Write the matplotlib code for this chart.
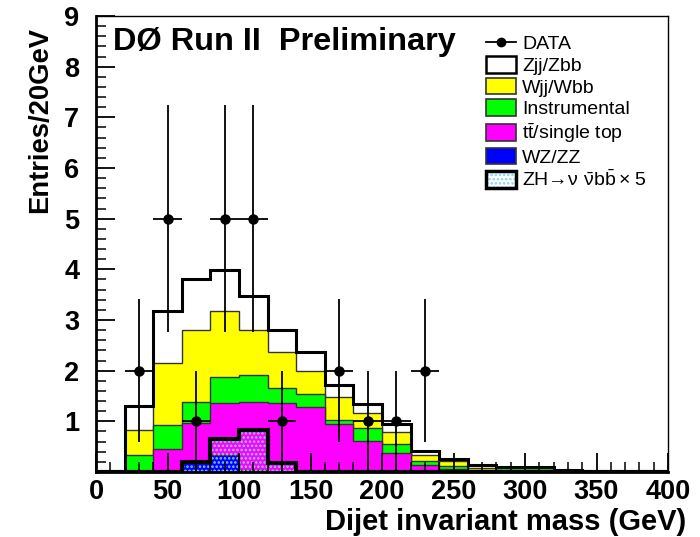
import numpy as np
import matplotlib
matplotlib.use("Agg")
import matplotlib.pyplot as plt
from matplotlib.patches import Patch
from matplotlib.lines import Line2D
from matplotlib.ticker import MultipleLocator

plt.rcParams['font.family'] = ['Liberation Sans', 'DejaVu Sans']
plt.rcParams['mathtext.default'] = 'regular'
plt.rcParams['hatch.linewidth'] = 1.2

# binning: 20 GeV bins from 0 to 400
edges = np.arange(0, 420, 20)

# background components (events per bin)
wz_zz = [0, 0, 0, 0.18, 0.34, 0.04, 0, 0, 0, 0, 0, 0, 0, 0, 0, 0, 0, 0, 0, 0]
ttbar = [0, 0, 0.46, 0.78, 1.03, 1.34, 1.36, 1.28, 0.95, 0.62, 0.37, 0.13, 0.06, 0.02, 0.01, 0, 0, 0, 0, 0]
instr = [0, 0.33, 0.47, 0.43, 0.51, 0.53, 0.30, 0.25, 0.07, 0.25, 0.19, 0.08, 0.06, 0.02, 0.075, 0.08, 0.02, 0, 0, 0]
wjj = [0, 0.49, 1.23, 1.42, 1.30, 0.89, 0.71, 0.46, 0.47, 0.29, 0.23, 0.12, 0.09, 0.03, 0.005, 0, 0, 0, 0, 0]
zjj = [0, 0.48, 1.02, 0.99, 0.80, 0.67, 0.43, 0.38, 0.22, 0.18, 0.16, 0.09, 0.04, 0.06, 0.01, 0.01, 0.01, 0, 0, 0]

# signal ZH -> nu nu bb, scaled x5
zh_x5 = [0, 0, 0, 0.20, 0.66, 0.82, 0.18, 0, 0, 0, 0, 0, 0, 0, 0, 0, 0, 0, 0, 0]

# data
data_x = [30, 50, 70, 90, 110, 130, 170, 190, 210, 230]
data_y = [2, 5, 1, 5, 5, 1, 2, 1, 1, 2]

# stacked sums
s_wz = np.array(wz_zz)
s_tt = s_wz + np.array(ttbar)
s_in = s_tt + np.array(instr)
s_wj = s_in + np.array(wjj)
s_zj = s_wj + np.array(zjj)

fig = plt.figure(figsize=(7, 5.37), dpi=100)
ax = fig.add_axes([96 / 700, 1 - 472 / 537, 572 / 700, 456 / 537])

ax.stairs(s_zj, edges, fill=True, facecolor='white', edgecolor='none')
ax.stairs(s_wj, edges, fill=True, facecolor='#ffff00', edgecolor='#333333', lw=1)
ax.stairs(s_in, edges, fill=True, facecolor='#00ff00', edgecolor='#333333', lw=1)
ax.stairs(s_tt, edges, fill=True, facecolor='#ff00ff', edgecolor='#333333', lw=1)
ax.stairs(s_wz, edges, fill=True, facecolor='#0000ff', edgecolor='#333333', lw=1)
ax.stairs(s_zj, edges, fill=False, edgecolor='black', lw=2.2)

# signal: dotted light blue fill + thick outline
ax.stairs(zh_x5, edges, fill=True, facecolor='none', edgecolor='#7fd4f0', hatch='....', lw=0)
ax.stairs(zh_x5, edges, fill=False, edgecolor='black', lw=3)

# data with sqrt(N) errors
ax.errorbar(data_x, data_y, yerr=np.sqrt(data_y), xerr=10, fmt='o', color='black',
            ms=6.5, elinewidth=1.3, capsize=0, zorder=5)

ax.set_xlim(0, 400)
ax.set_ylim(0, 9)
ax.xaxis.set_major_locator(MultipleLocator(50))
ax.xaxis.set_minor_locator(MultipleLocator(10))
ax.set_yticks(np.arange(1, 10))
ax.yaxis.set_minor_locator(MultipleLocator(0.2))
ax.tick_params(which='major', direction='in', length=14, width=1.3, labelsize=19.5)
ax.tick_params(which='minor', direction='in', length=7, width=1.1)
ax.tick_params(axis='y', pad=12)
ax.tick_params(axis='x', pad=5)
for lab in ax.get_xticklabels() + ax.get_yticklabels():
    lab.set_fontweight('bold')
for s in ['left', 'bottom']:
    ax.spines[s].set_linewidth(2)
for s in ['top', 'right']:
    ax.spines[s].set_linewidth(1)

fig.text(686 / 700, 1 - 530 / 537, 'Dijet invariant mass (GeV)', ha='right', va='baseline',
         fontsize=21, fontweight='bold')
fig.text(40 / 700, 1 - 27 / 537, 'Entries/20GeV', ha='center', va='top', rotation=90,
         fontsize=19.7, fontweight='bold')
fig.text(113 / 700, 1 - 42 / 537, 'DØ Run II  Preliminary', ha='left', va='center',
         fontsize=23.4, fontweight='bold')

handles = [
    Line2D([], [], color='black', marker='o', ms=6, lw=1.3),
    Patch(facecolor='white', edgecolor='black', lw=1.8),
    Patch(facecolor='#ffff00', edgecolor='#333333', lw=1.2),
    Patch(facecolor='#00ff00', edgecolor='#333333', lw=1.2),
    Patch(facecolor='#ff00ff', edgecolor='#333333', lw=1.2),
    Patch(facecolor='#0000ff', edgecolor='#333333', lw=1.2),
    (Patch(facecolor='white', edgecolor='#7fd4f0', hatch='....', lw=0),
     Patch(facecolor='none', edgecolor='black', lw=2.5)),
]
labels = ['DATA', 'Zjj/Zbb', 'Wjj/Wbb', 'Instrumental', r'$t\bar{t}$/single top', 'WZ/ZZ',
          r'ZH→$\nu\ \bar{\nu}b\bar{b}\times5$']
fig.legend(handles, labels, loc='upper left', bbox_to_anchor=(486 / 700, 1 - 34 / 537),
           frameon=False, fontsize=14, handlelength=1.55, handleheight=0.95,
           handletextpad=0.3, labelspacing=0.14, borderpad=0, borderaxespad=0)

fig.savefig('out.png', dpi=100)
